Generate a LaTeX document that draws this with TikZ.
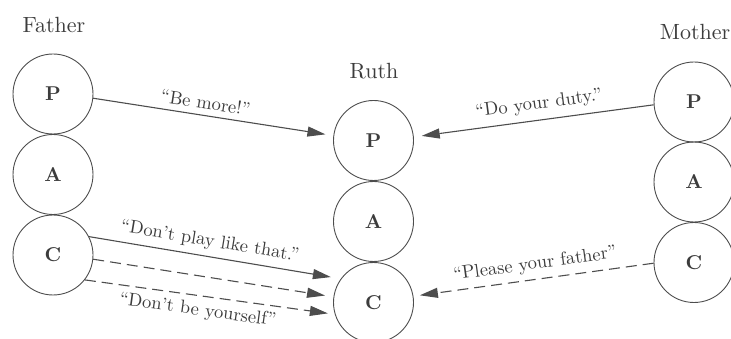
\documentclass[tikz,border=0pt]{standalone}
\usepackage{fontspec}
\setmainfont{lmroman10}[Extension=.otf,UprightFont=*-regular,BoldFont=*-bold,ItalicFont=*-italic,BoldItalicFont=*-bolditalic]
\usetikzlibrary{arrows.meta}
\definecolor{ink}{HTML}{4D4D4D}
\definecolor{txt}{HTML}{3C3C3C}
\begin{document}
\begin{tikzpicture}[x=1pt,y=-1pt,
  ego/.style={circle,draw=ink,line width=0.9pt,minimum size=80pt,inner sep=0pt,
    text=txt,font=\fontsize{20}{24}\selectfont\bfseries},
  who/.style={anchor=base,text=txt,font=\fontsize{22}{26}\selectfont},
  msg/.style={draw=ink,line width=1.1pt,-{Triangle[length=18pt,width=10pt]},shorten >=8pt},
  dsh/.style={msg,dash pattern=on 11pt off 6pt},
  quote/.style={sloped,text=txt,font=\fontsize{18.5}{22}\selectfont,inner sep=2pt}]
\useasboundingbox (0,0) rectangle (731,339);
% Father
\node[who] (fname) at (54,33) {Father};
\node[ego] (fP) at (53,94) {P};
\node[ego] (fA) at (53,174.5) {A};
\node[ego] (fC) at (53,255) {C};
% Ruth
\node[who] (rname) at (374,79) {Ruth};
\node[ego] (rP) at (373.5,140.5) {P};
\node[ego] (rA) at (373.5,221.5) {A};
\node[ego] (rC) at (373.5,302.5) {C};
% Mother
\node[who] (mname) at (695,40) {Mother};
\node[ego] (mP) at (694,102) {P};
\node[ego] (mA) at (694,182) {A};
\node[ego] (mC) at (694,262.5) {C};
% messages
\draw[msg] (fP.-6) -- (rP.173.5)
  node[quote,pos=0.46,above=4pt] {``Be\ more!''};
\draw[msg] (mP.184.5) -- (rP.5.3)
  node[quote,pos=0.47,above=5pt] {``Do your duty.''};
\draw[msg,shorten >=10pt] (fC.27) -- (rC.144.6)
  node[quote,pos=0.47,above=4pt] {``Don't play like that.''};
\draw[dsh,shorten >=8.5pt] (fC.-6) -- (rC.172.4);
\draw[dsh,shorten >=7pt] (fC.-38) -- (rC.197.7)
  node[quote,pos=0.46,below=4pt] {``Don't be yourself''};
\draw[dsh,shorten >=6.5pt] (mC.181) -- (rC.9.2)
  node[quote,pos=0.485,above=4pt] {``Please your father''};
\end{tikzpicture}
\end{document}
